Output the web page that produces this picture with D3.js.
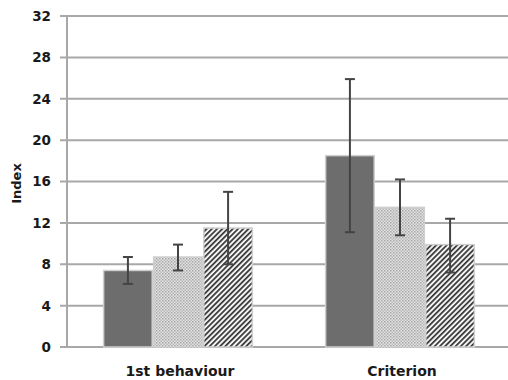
<!DOCTYPE html>
<html>
<head>
<meta charset="utf-8">
<script src="https://cdn.jsdelivr.net/npm/d3@7"></script>
<style>
  html, body { margin: 0; padding: 0; background: #fff; }
  svg { display: block; }
  text { font-family: "DejaVu Sans", Verdana, sans-serif; font-weight: bold; fill: #1a1a1a; }
</style>
</head>
<body>
<svg id="chart" width="508" height="380"></svg>
<script>
// Categories and series
const categories = ["1st behaviour", "Criterion"];
const seriesNames = ["solid", "dotted", "hatched"];
// Mean index per series, in category order
const solidMeans   = [7.4, 18.5];
const dottedMeans  = [8.7, 13.5];
const hatchedMeans = [11.5, 9.9];
// Error bar bounds (low, high)
const solidLow   = [6.1, 11.1];
const solidHigh  = [8.7, 25.9];
const dottedLow  = [7.4, 10.8];
const dottedHigh = [9.9, 16.2];
const hatchedLow  = [8.0, 7.2];
const hatchedHigh = [15.0, 12.4];
const yTicks = [0, 4, 8, 12, 16, 20, 24, 28, 32];

const means = [solidMeans, dottedMeans, hatchedMeans];
const lows = [solidLow, dottedLow, hatchedLow];
const highs = [solidHigh, dottedHigh, hatchedHigh];

const rows = [];
categories.forEach((c, ci) => {
  seriesNames.forEach((s, si) => {
    rows.push({ cat: c, series: s, value: means[si][ci], lo: lows[si][ci], hi: highs[si][ci] });
  });
});

const svg = d3.select("#chart");
const plotLeft = 67, plotRight = 511, plotTop = 16, plotBottom = 347;

const y = d3.scaleLinear().domain([0, 32]).range([plotBottom, plotTop]);
const x0 = d3.scaleBand().domain(categories).range([plotLeft, plotRight])
  .paddingInner(0.33).paddingOuter(0.165);
const x1 = d3.scaleBand().domain(seriesNames).range([0, x0.bandwidth()]).paddingInner(0.03);

// Fill patterns
const defs = svg.append("defs");
const dots = defs.append("pattern").attr("id", "dots")
  .attr("patternUnits", "userSpaceOnUse").attr("width", 3).attr("height", 3);
dots.append("rect").attr("width", 3).attr("height", 3).attr("fill", "#e2e2e2");
dots.append("rect").attr("x", 0).attr("y", 0).attr("width", 1.5).attr("height", 1.5).attr("fill", "#a8a8a8");
dots.append("rect").attr("x", 1.5).attr("y", 1.5).attr("width", 1.5).attr("height", 1.5).attr("fill", "#b8b8b8");

const hatch = defs.append("pattern").attr("id", "hatch")
  .attr("patternUnits", "userSpaceOnUse").attr("width", 3.7).attr("height", 3.7)
  .attr("patternTransform", "rotate(45)");
hatch.append("rect").attr("width", 3.7).attr("height", 3.7).attr("fill", "#f4f4f4");
hatch.append("rect").attr("x", 0).attr("width", 1.7).attr("height", 3.7).attr("fill", "#333");

const fills = { solid: "#6d6d6d", dotted: "url(#dots)", hatched: "url(#hatch)" };

// Gridlines with tick stubs
svg.append("g").selectAll("line").data(yTicks).join("line")
  .attr("x1", 60).attr("x2", 508)
  .attr("y1", d => y(d)).attr("y2", d => y(d))
  .attr("stroke", "#a8a8a8").attr("stroke-width", 2);

// Vertical axis line
svg.append("line").attr("x1", plotLeft).attr("x2", plotLeft)
  .attr("y1", y(0)).attr("y2", y(32))
  .attr("stroke", "#a8a8a8").attr("stroke-width", 2);

// Tick labels
svg.append("g").selectAll("text").data(yTicks).join("text")
  .attr("x", 51).attr("y", d => y(d)).attr("dy", "0.37em")
  .attr("text-anchor", "end").attr("font-size", 13.5)
  .text(d => d);

// Axis title
svg.append("text").attr("transform", `translate(21,${(plotTop + plotBottom) / 2 + 2}) rotate(-90)`)
  .attr("text-anchor", "middle").attr("font-size", 13)
  .text("Index");

// Bars
svg.append("g").selectAll("rect").data(rows).join("rect")
  .attr("x", d => x0(d.cat) + x1(d.series))
  .attr("width", x1.bandwidth())
  .attr("y", d => y(d.value))
  .attr("height", d => y(0) - y(d.value))
  .attr("fill", d => fills[d.series])
  .attr("stroke", "#cfcfcf").attr("stroke-width", 1.5);

// Error bars
const eb = svg.append("g").attr("stroke", "#444").attr("stroke-width", 2);
rows.forEach(d => {
  const cx = x0(d.cat) + x1(d.series) + x1.bandwidth() / 2;
  eb.append("line").attr("x1", cx).attr("x2", cx).attr("y1", y(d.lo)).attr("y2", y(d.hi));
  eb.append("line").attr("x1", cx - 5).attr("x2", cx + 5).attr("y1", y(d.lo)).attr("y2", y(d.lo));
  eb.append("line").attr("x1", cx - 5).attr("x2", cx + 5).attr("y1", y(d.hi)).attr("y2", y(d.hi));
});

// Category labels
svg.append("g").selectAll("text").data(categories).join("text")
  .attr("x", d => x0(d) + x0.bandwidth() / 2 + 2).attr("y", 376)
  .attr("text-anchor", "middle").attr("font-size", 14)
  .text(d => d);
</script>
</body>
</html>
